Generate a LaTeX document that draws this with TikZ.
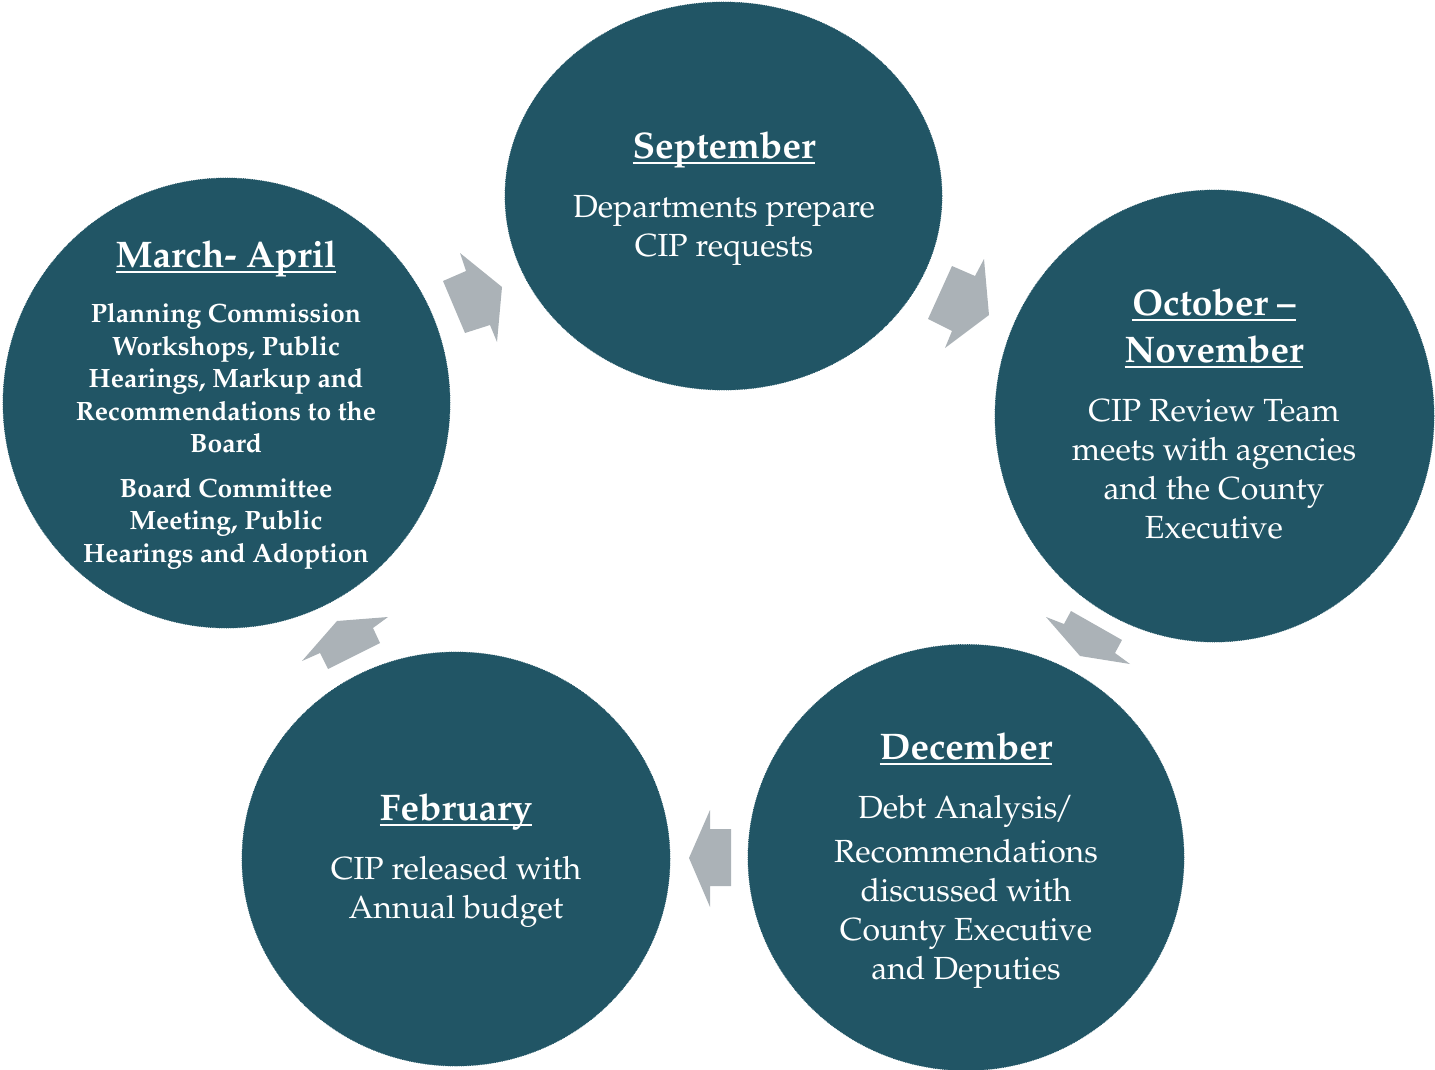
\documentclass[tikz,border=0pt]{standalone}
\usepackage[T1]{fontenc}
\usepackage{mathpazo}
\usetikzlibrary{shapes.geometric}
\definecolor{circ}{HTML}{215565}
\definecolor{arr}{HTML}{ABB2B7}
\newcommand{\myuline}[1]{\setbox0\hbox{#1}\rlap{\rule[-6pt]{\wd0}{2pt}}\box0}
\tikzset{
  phase/.style={ellipse, fill=circ, draw=circ, densely dotted, line width=0.8pt, inner sep=0pt, outer sep=0pt},
  ttl/.style={text=white, align=center, anchor=base, font=\bfseries\fontsize{37}{47}\selectfont},
  body/.style={text=white, align=center, anchor=base, font=\fontsize{32}{39}\selectfont},
  bodyb/.style={text=white, align=center, anchor=base, font=\bfseries\fontsize{26.5}{32.5}\selectfont},
  blockarrow/.style={fill=arr}
}
\begin{document}
\begin{tikzpicture}[x=1pt, y=-1pt]
\useasboundingbox (0,0) rectangle (1435,1070);
% circles
\node[phase, minimum width=437pt, minimum height=388pt] (sep) at (723.5,196) {};
\node[phase, minimum width=439pt, minimum height=452pt] (oct) at (1214.5,416) {};
\node[phase, minimum width=436pt, minimum height=426pt] (dec) at (966,857.5) {};
\node[phase, minimum width=428pt, minimum height=414pt] (feb) at (456,859) {};
\node[phase, minimum width=447pt, minimum height=450pt] (mar) at (226.5,403) {};
% arrows
\fill[blockarrow] (460,253) -- (466,271) -- (443,281) -- (465,333) -- (490,325) -- (497,342) -- (502,287) -- cycle;
\fill[blockarrow] (952,266) -- (975,276) -- (984,259) -- (989,315) -- (945,348) -- (952,331) -- (928,319) -- cycle;
\fill[blockarrow] (1046,617) -- (1064,624) -- (1071,611) -- (1122,640) -- (1115,653) -- (1130,664) -- (1080,656) -- cycle;
\fill[blockarrow] (710,810) -- (710,829) -- (731,829) -- (731,886) -- (710,886) -- (710,907) -- (689,858) -- cycle;
\fill[blockarrow] (388,617) -- (373,628) -- (380,643) -- (328,669) -- (320,653) -- (302,661) -- (337,621) -- cycle;
% texts (anchor base = baseline of the last line)
\node[ttl] (septitle) at (724,158) {\myuline{September}};
\node[body] (septext) at (724,256) {Departments prepare\\CIP requests};
\node[ttl] (octtitle) at (1214,362) {\myuline{October --}\\\myuline{November}};
\node[body] (octtext) at (1214,538) {CIP Review Team\\meets with agencies\\and the County\\Executive};
\node[ttl] (dectitle) at (966,759) {\myuline{December}};
\node[body] (dectext) at (966,979) {Debt Analysis\kern-3pt/\\[5pt]Recommendations\\discussed with\\County Executive\\and Deputies};
\node[ttl] (febtitle) at (456,820) {\myuline{February}};
\node[body] (febtext) at (456,918) {CIP released with\\Annual budget};
\node[ttl] (martitle) at (226,267) {\myuline{March- April}};
\node[bodyb] (martext) at (226,562) {Planning Commission\\Workshops, Public\\Hearings, Markup and\\Recommendations to the\\Board\\[12pt]Board Committee\\Meeting, Public\\Hearings and Adoption};
\end{tikzpicture}
\end{document}
